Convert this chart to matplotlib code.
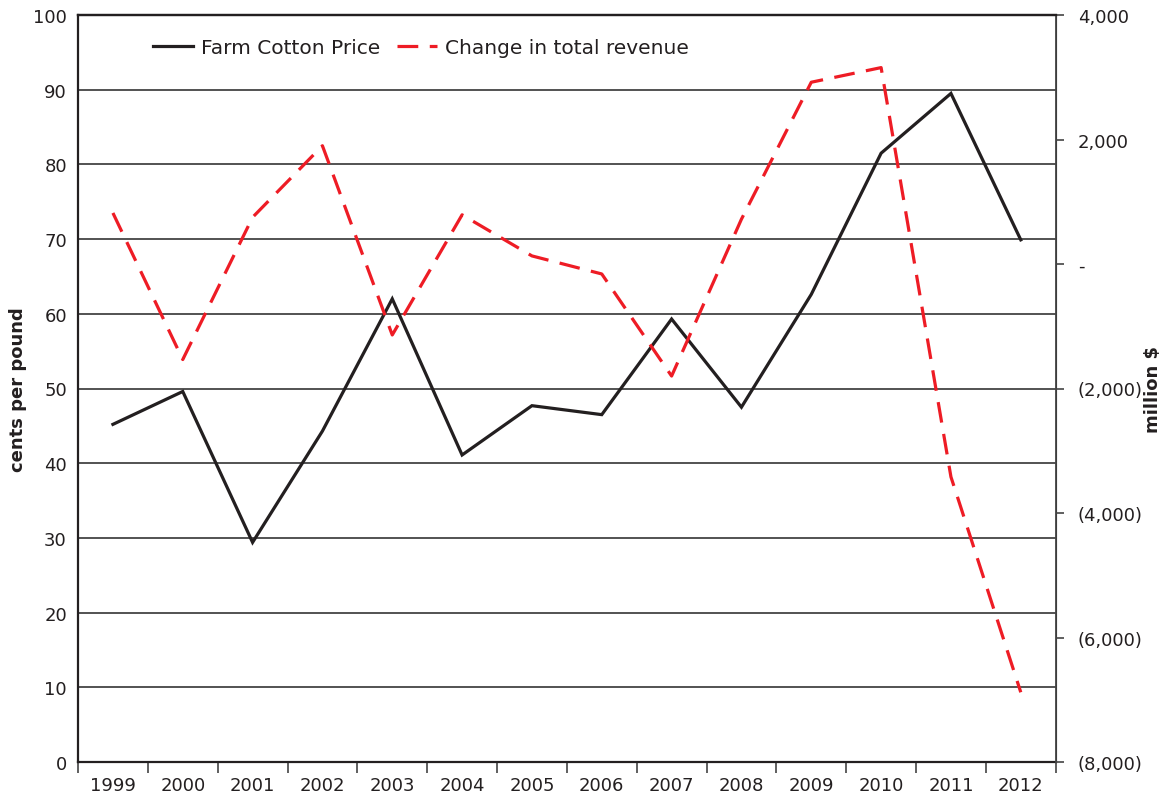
import matplotlib
matplotlib.use("Agg")
import matplotlib.pyplot as plt
from matplotlib.ticker import FixedLocator, FuncFormatter

years = ["1999", "2000", "2001", "2002", "2003", "2004", "2005", "2006",
         "2007", "2008", "2009", "2010", "2011", "2012"]
cotton_price = [45.2, 49.6, 29.4, 44.3, 62.0, 41.1, 47.7, 46.5,
                59.3, 47.5, 62.6, 81.5, 89.5, 69.9]
revenue_change = [820, -1535, 750, 1900, -1140, 790, 130, -160,
                  -1800, 720, 2920, 3155, -3420, -6880]

plt.rcParams['font.family'] = ['DejaVu Sans']

fig = plt.figure(figsize=(11.69, 8.03), dpi=100)
ax = fig.add_axes([78/1169, 40/803, (1055.7-78)/1169, (763-16)/803])
ax2 = ax.twinx()

x = list(range(len(years)))

black = '#231F20'
red = '#EE1C25'

l1, = ax.plot(x, cotton_price, color=black, lw=2.3, solid_joinstyle='miter',
              label='Farm Cotton Price', zorder=3)
l2, = ax2.plot(x, revenue_change, color=red, lw=2.3, dashes=(6.5, 3.6),
               label='Change in total revenue', zorder=3)

ax.set_xlim(-0.5, len(years) - 0.5)
ax.set_ylim(0, 100)
ax2.set_ylim(-8000, 4000)

# gridlines on left axis
ax.set_yticks(range(0, 101, 10))
ax.yaxis.grid(True, color='#444444', lw=1.3)
ax.set_axisbelow(True)
ax.tick_params(axis='y', length=0, labelsize=13, pad=8, colors='#231F20')

# x ticks: labels at centres, tick marks at boundaries
ax.set_xticks(x)
ax.set_xticklabels(years)
ax.xaxis.set_minor_locator(FixedLocator([i - 0.5 for i in range(len(years) + 1)]))
ax.tick_params(axis='x', which='major', length=0, labelsize=13, pad=10, colors='#231F20')
ax.tick_params(axis='x', which='minor', length=8, width=1.2, color='#444444')

# right axis
def acct(v, pos):
    v = int(round(v))
    if v == 0:
        return '-'
    if v < 0:
        return '({:,})'.format(-v)
    return '{:,}'.format(v)

ax2.set_yticks(range(-8000, 4001, 2000))
ax2.yaxis.set_major_formatter(FuncFormatter(acct))
ax2.tick_params(axis='y', length=6, width=1.2, color='#444444', labelsize=13,
                pad=10, colors='#231F20')
ax2.tick_params(axis='y', color='#444444')

for s in ['top', 'bottom', 'left']:
    ax.spines[s].set_color(black)
    ax.spines[s].set_linewidth(1.6)
ax2.spines['right'].set_color('#444444')
ax2.spines['right'].set_linewidth(1.3)
ax2.spines['top'].set_color(black)
ax2.spines['top'].set_linewidth(1.6)
ax2.spines['left'].set_visible(False)
ax2.spines['bottom'].set_visible(False)

ax.set_ylabel('cents per pound', fontsize=13, fontweight='bold', labelpad=4,
              color=black)
ax2.set_ylabel('million $', fontsize=13, fontweight='bold', labelpad=1,
               color=black)

leg = ax.legend(handles=[l1, l2], loc='upper left', bbox_to_anchor=(0.058, 0.993),
                ncol=2, frameon=False, fontsize=14.5, handlelength=2.0,
                columnspacing=0.8, handletextpad=0.4)
for t in leg.get_texts():
    t.set_color(black)

fig.savefig('out.png', dpi=100)
